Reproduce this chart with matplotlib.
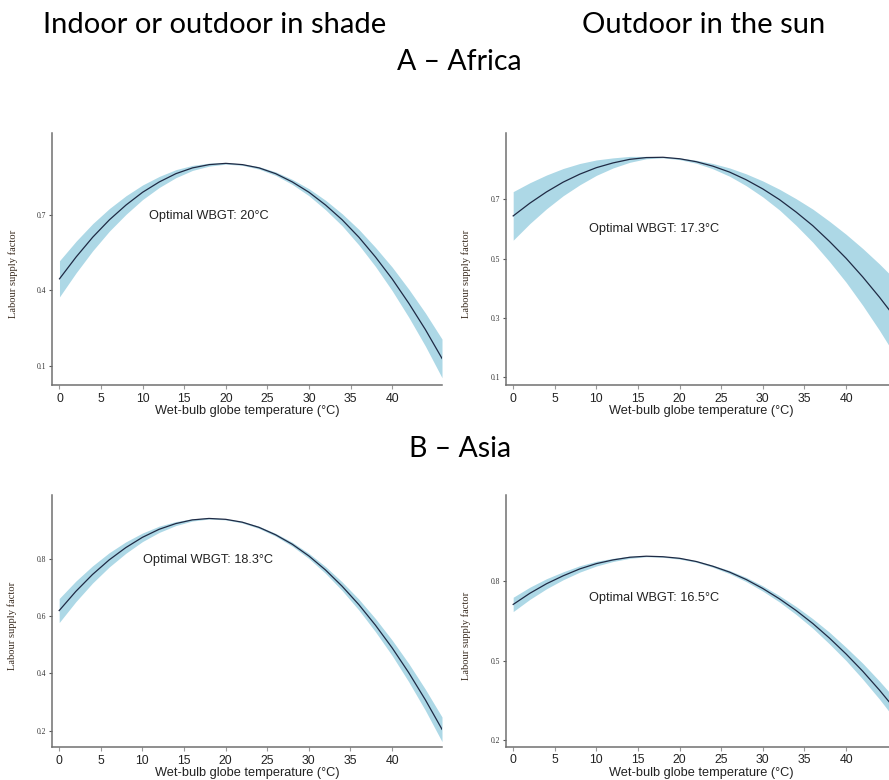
import matplotlib
matplotlib.use("Agg")
import matplotlib.pyplot as plt

# Wet-bulb globe temperature grid (°C)
WBGT = [0, 2, 4, 6, 8, 10, 12, 14, 16, 18, 20, 22,
        24, 26, 28, 30, 32, 34, 36, 38, 40, 42, 44, 46]

# Africa, indoor or outdoor in shade
AF_SHADE_FIT = [0.446, 0.533, 0.612, 0.681, 0.740, 0.791, 0.832, 0.865, 0.888, 0.901, 0.906, 0.901,
                0.888, 0.865, 0.832, 0.791, 0.740, 0.681, 0.612, 0.533, 0.446, 0.349, 0.244, 0.129]
AF_SHADE_LO = [0.374, 0.470, 0.558, 0.636, 0.703, 0.762, 0.810, 0.849, 0.878, 0.895, 0.903, 0.898,
               0.883, 0.858, 0.822, 0.777, 0.721, 0.657, 0.581, 0.495, 0.399, 0.293, 0.178, 0.052]
AF_SHADE_HI = [0.518, 0.596, 0.666, 0.726, 0.777, 0.820, 0.854, 0.881, 0.898, 0.907, 0.909, 0.904,
               0.893, 0.872, 0.842, 0.805, 0.759, 0.705, 0.643, 0.571, 0.493, 0.405, 0.310, 0.206]

# Africa, outdoor in the sun
AF_SUN_FIT = [0.644, 0.687, 0.725, 0.758, 0.785, 0.807, 0.823, 0.835, 0.841, 0.842, 0.837, 0.827,
              0.812, 0.792, 0.766, 0.735, 0.699, 0.657, 0.611, 0.558, 0.501, 0.438, 0.370, 0.297]
AF_SUN_LO = [0.562, 0.618, 0.668, 0.712, 0.749, 0.781, 0.806, 0.825, 0.837, 0.840, 0.834, 0.822,
             0.803, 0.778, 0.746, 0.708, 0.664, 0.612, 0.555, 0.490, 0.420, 0.342, 0.258, 0.168]
AF_SUN_HI = [0.726, 0.756, 0.782, 0.804, 0.821, 0.833, 0.840, 0.845, 0.845, 0.844, 0.840, 0.832,
             0.821, 0.806, 0.786, 0.762, 0.734, 0.702, 0.667, 0.626, 0.582, 0.534, 0.482, 0.426]

# Asia, indoor or outdoor in shade
AS_SHADE_FIT = [0.620, 0.687, 0.746, 0.797, 0.840, 0.876, 0.904, 0.924, 0.937, 0.942, 0.939, 0.929,
                0.911, 0.885, 0.852, 0.811, 0.762, 0.705, 0.641, 0.569, 0.490, 0.403, 0.308, 0.205]
AS_SHADE_LO = [0.578, 0.651, 0.716, 0.772, 0.820, 0.861, 0.893, 0.917, 0.933, 0.940, 0.937, 0.926,
               0.907, 0.880, 0.845, 0.802, 0.750, 0.690, 0.622, 0.546, 0.463, 0.371, 0.271, 0.162]
AS_SHADE_HI = [0.662, 0.723, 0.776, 0.822, 0.860, 0.891, 0.915, 0.931, 0.941, 0.944, 0.941, 0.932,
               0.915, 0.890, 0.859, 0.820, 0.774, 0.720, 0.660, 0.592, 0.517, 0.435, 0.345, 0.248]

# Asia, outdoor in the sun
AS_SUN_FIT = [0.712, 0.754, 0.790, 0.820, 0.846, 0.866, 0.880, 0.890, 0.894, 0.892, 0.886, 0.874,
              0.856, 0.834, 0.806, 0.772, 0.733, 0.689, 0.640, 0.585, 0.525, 0.460, 0.389, 0.313]
AS_SUN_LO = [0.685, 0.731, 0.771, 0.805, 0.834, 0.857, 0.874, 0.886, 0.892, 0.890, 0.883, 0.871,
             0.852, 0.828, 0.798, 0.762, 0.721, 0.674, 0.622, 0.563, 0.500, 0.430, 0.355, 0.274]
AS_SUN_HI = [0.739, 0.777, 0.809, 0.835, 0.858, 0.875, 0.886, 0.894, 0.896, 0.894, 0.889, 0.877,
             0.860, 0.840, 0.814, 0.782, 0.745, 0.704, 0.658, 0.607, 0.550, 0.490, 0.423, 0.352]

OPTIMA = ["20", "17.3", "18.3", "16.5"]
Y_TICKS = [[0.1, 0.4, 0.7], [0.1, 0.3, 0.5, 0.7], [0.2, 0.4, 0.6, 0.8], [0.2, 0.5, 0.8]]
X_TICKS = [0, 5, 10, 15, 20, 25, 30, 35, 40]

HEAD_FONT = "Lato"
SANS = "Liberation Sans"
SERIF = "Liberation Serif"
BAND = "#add8e6"
LINE = "#1f2a44"
SPINE = "#707070"

W, H = 889, 780
fig = plt.figure(figsize=(W / 100, H / 100), dpi=100)


def px_rect(left, top, right, bottom):
    return [left / W, 1 - bottom / H, (right - left) / W, (bottom - top) / H]


panels = [
    dict(rect=px_rect(52, 133, 442, 385), fit=AF_SHADE_FIT, lo=AF_SHADE_LO, hi=AF_SHADE_HI,
         ylim=(0.023, 1.027), note=(10.8, 0.696), ylab=0.44),
    dict(rect=px_rect(505.7, 132.7, 896, 385), fit=AF_SUN_FIT, lo=AF_SUN_LO, hi=AF_SUN_HI,
         ylim=(0.073, 0.925), note=(9.1, 0.599), ylab=0.44),
    dict(rect=px_rect(51.7, 495, 442, 747.3), fit=AS_SHADE_FIT, lo=AS_SHADE_LO, hi=AS_SHADE_HI,
         ylim=(0.142, 1.024), note=(10.1, 0.797), ylab=0.48),
    dict(rect=px_rect(505.7, 495, 896, 746.7), fit=AS_SUN_FIT, lo=AS_SUN_LO, hi=AS_SUN_HI,
         ylim=(0.175, 1.125), note=(9.1, 0.735), ylab=0.44),
]

for i, p in enumerate(panels):
    ax = fig.add_axes(p["rect"])
    ax.fill_between(WBGT, p["lo"], p["hi"], color=BAND, lw=0)
    ax.plot(WBGT, p["fit"], color=LINE, lw=0.9)
    ax.set_xlim(-0.9, 46)
    ax.set_ylim(*p["ylim"])

    for side in ("top", "right"):
        ax.spines[side].set_visible(False)
    for side in ("left", "bottom"):
        ax.spines[side].set_color(SPINE)
        ax.spines[side].set_linewidth(1.1)

    ax.set_xticks(X_TICKS)
    ax.set_xticklabels([str(t) for t in X_TICKS], fontfamily=SANS, fontsize=8.8, color="#222222")
    ax.set_yticks(Y_TICKS[i])
    ax.set_yticklabels([f"{t:.1f}" for t in Y_TICKS[i]], fontfamily=SERIF, fontsize=5.5, color="#333333")
    ax.tick_params(axis="x", length=3, width=0.8, color="#999999", pad=2.5)
    ax.tick_params(axis="y", length=2.5, width=0.8, color="#555555", pad=1.5)

    ax.set_xlabel("Wet-bulb globe temperature (°C)", fontfamily=SANS, fontsize=9.2,
                  color="#222222", labelpad=0.3)
    ax.set_ylabel("Labour supply factor", fontfamily=SERIF, fontsize=7.6, color="#3a2c20")
    ax.yaxis.set_label_coords(-0.088, p["ylab"])

    nx, ny = p["note"]
    ax.text(nx, ny, f"Optimal WBGT: {OPTIMA[i]}°C", fontfamily=SANS, fontsize=9.2,
            color="#222222", ha="left", va="center")

fig.text(215 / W, 1 - 25 / H, "Indoor or outdoor in shade", fontfamily=HEAD_FONT,
         fontsize=21, ha="center", va="center")
fig.text(704 / W, 1 - 25 / H, "Outdoor in the sun", fontfamily=HEAD_FONT,
         fontsize=21, ha="center", va="center")
fig.text(459 / W, 1 - 62 / H, "A – Africa", fontfamily=HEAD_FONT,
         fontsize=20.5, ha="center", va="center")
fig.text(460 / W, 1 - 449 / H, "B – Asia", fontfamily=HEAD_FONT,
         fontsize=20.5, ha="center", va="center")

fig.savefig("out.png", dpi=100)
